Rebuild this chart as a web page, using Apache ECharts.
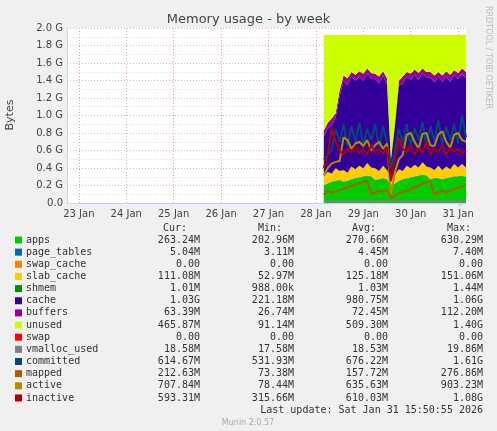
<!DOCTYPE html>
<html><head><meta charset="utf-8">
<script src="https://cdn.jsdelivr.net/npm/echarts@6/dist/echarts.min.js"></script>
<style>html,body{margin:0;padding:0;background:#F0F0F0}#c{width:497px;height:431px}</style>
</head><body><div id="c"></div>
<script>
// hours since 23 Jan 00:00; axis runs every 2 hours, samples start at 28 Jan 04:00
var firstHour = -6, lastHour = 196, stepHour = 2, startHour = 124;
var dayLabels = ['23 Jan', '24 Jan', '25 Jan', '26 Jan', '27 Jan', '28 Jan', '29 Jan', '30 Jan', '31 Jan'];
var memTotal = 1.92;

var apps = [0.20,0.22,0.24,0.25,0.26,0.24,0.25,0.27,0.28,0.29,0.30,0.31,0.30,0.26,0.27,0.28,0.27,0.20,0.22,0.25,0.27,0.28,0.29,0.30,0.31,0.32,0.31,0.27,0.28,0.28,0.27,0.28,0.29,0.30,0.30,0.31,0.30];
var pageTables = [0.005,0.005,0.005,0.005,0.005,0.005,0.005,0.005,0.005,0.005,0.005,0.005,0.005,0.005,0.005,0.005,0.005,0.004,0.004,0.005,0.005,0.005,0.005,0.005,0.005,0.005,0.005,0.005,0.005,0.005,0.005,0.005,0.005,0.005,0.005,0.005,0.005];
var slabCache = [0.10,0.13,0.09,0.14,0.10,0.13,0.09,0.14,0.10,0.13,0.09,0.14,0.10,0.13,0.09,0.14,0.10,0.08,0.10,0.13,0.09,0.14,0.10,0.13,0.09,0.14,0.10,0.13,0.09,0.14,0.10,0.13,0.09,0.14,0.10,0.13,0.10];
var shmem = [0.001,0.001,0.001,0.001,0.001,0.001,0.001,0.001,0.001,0.001,0.001,0.001,0.001,0.001,0.001,0.001,0.001,0.001,0.001,0.001,0.001,0.001,0.001,0.001,0.001,0.001,0.001,0.001,0.001,0.001,0.001,0.001,0.001,0.001,0.001,0.001,0.001];
var cache = [0.45,0.50,0.55,0.58,0.85,1.02,1.00,1.03,1.01,1.02,1.00,1.03,1.01,1.02,1.00,1.03,0.98,0.20,0.55,0.95,1.00,1.02,1.01,1.03,1.00,1.02,1.01,1.03,1.00,1.02,1.01,1.03,1.00,1.02,1.01,1.03,1.02];
var buffers = [0.07,0.06,0.08,0.05,0.07,0.06,0.08,0.05,0.07,0.06,0.08,0.05,0.07,0.06,0.08,0.05,0.07,0.03,0.04,0.06,0.08,0.05,0.07,0.06,0.08,0.05,0.07,0.06,0.08,0.05,0.07,0.06,0.08,0.05,0.07,0.06,0.07];
var vmallocUsed = [0.018,0.018,0.018,0.018,0.018,0.018,0.018,0.018,0.018,0.018,0.018,0.018,0.018,0.018,0.018,0.018,0.018,0.018,0.018,0.018,0.018,0.018,0.018,0.018,0.018,0.018,0.018,0.018,0.018,0.018,0.018,0.018,0.018,0.018,0.018,0.018,0.019];
var committed = [0.50,0.55,0.60,0.85,0.70,0.90,0.65,0.88,0.70,0.92,0.66,0.85,0.72,0.90,0.64,0.88,0.70,0.40,0.60,0.85,0.68,0.90,0.66,0.86,0.72,0.92,0.65,0.88,0.70,0.95,0.66,0.87,0.72,0.90,0.68,1.00,0.75];
var mapped = [0.10,0.14,0.12,0.13,0.15,0.16,0.18,0.19,0.21,0.22,0.24,0.25,0.10,0.12,0.14,0.13,0.15,0.06,0.08,0.11,0.13,0.14,0.16,0.18,0.20,0.22,0.24,0.25,0.10,0.12,0.14,0.12,0.14,0.16,0.17,0.19,0.21];
var active = [0.32,0.40,0.45,0.47,0.48,0.75,0.72,0.62,0.68,0.70,0.65,0.72,0.60,0.66,0.70,0.62,0.68,0.10,0.35,0.50,0.55,0.78,0.80,0.70,0.62,0.79,0.80,0.66,0.65,0.78,0.82,0.70,0.63,0.78,0.80,0.72,0.70];
var inactive = [0.40,0.55,0.85,0.70,0.60,0.55,0.62,0.58,0.65,0.57,0.63,0.55,0.66,0.58,0.62,0.56,0.64,0.25,0.50,0.75,0.62,0.58,0.66,0.55,0.63,0.57,0.70,0.55,0.62,0.58,0.66,0.55,0.63,0.58,0.62,0.56,0.60];

// legend table rows: name, colour, cur, min, avg, max
var legendRows = [
    ['apps', '#00CC00', '263.24M', '202.96M', '270.66M', '630.29M'],
    ['page_tables', '#0066B3', '5.04M', '3.11M', '4.45M', '7.40M'],
    ['swap_cache', '#FF8000', '0.00', '0.00', '0.00', '0.00'],
    ['slab_cache', '#FFCC00', '111.08M', '52.97M', '125.18M', '151.06M'],
    ['shmem', '#008F00', '1.01M', '988.00k', '1.03M', '1.44M'],
    ['cache', '#330099', '1.03G', '221.18M', '980.75M', '1.06G'],
    ['buffers', '#990099', '63.39M', '26.74M', '72.45M', '112.20M'],
    ['unused', '#CCFF00', '465.87M', '91.14M', '509.30M', '1.40G'],
    ['swap', '#FF0000', '0.00', '0.00', '0.00', '0.00'],
    ['vmalloc_used', '#808080', '18.58M', '17.58M', '18.53M', '19.86M'],
    ['committed', '#00487D', '614.67M', '531.93M', '676.22M', '1.61G'],
    ['mapped', '#B35A00', '212.63M', '73.38M', '157.72M', '276.86M'],
    ['active', '#B38F00', '707.84M', '78.44M', '635.63M', '903.23M'],
    ['inactive', '#B30000', '593.31M', '315.66M', '610.03M', '1.08G']
];

var hours = [];
for (var h = firstHour; h <= lastHour; h += stepHour) hours.push(h);
var offset = (startHour - firstHour) / stepHour;

function pad(arr) {
    var out = [];
    for (var i = 0; i < hours.length; i++) {
        var k = i - offset;
        out.push(k >= 0 && k < arr.length ? arr[k] : null);
    }
    return out;
}
var unused = [];
for (var i = 0; i < apps.length; i++) {
    unused.push(+(memTotal - apps[i] - pageTables[i] - slabCache[i] - shmem[i] - cache[i] - buffers[i]).toFixed(3));
}

function area(name, data, color) {
    return { name: name, type: 'line', stack: 'mem', data: pad(data), symbol: 'none',
        lineStyle: { width: 0 }, areaStyle: { color: color, opacity: 1 }, itemStyle: { color: color } };
}
function line(name, data, color) {
    return { name: name, type: 'line', data: pad(data), symbol: 'none', lineStyle: { width: 2, color: color } };
}
function isDay(index) { return hours[index] % 24 === 0 && hours[index] >= 0; }

var graphics = [];
var mono = '10px "DejaVu Sans Mono"';
var heads = [['Cur:', 187], ['Min:', 282], ['Avg:', 376], ['Max:', 471]];
heads.forEach(function (h) {
    graphics.push({ type: 'text', x: h[1], y: 228, style: { text: h[0], font: mono, fill: '#333', align: 'right', verticalAlign: 'middle' } });
});
legendRows.forEach(function (r, k) {
    var y = 240 + k * 12.15;
    graphics.push({ type: 'rect', shape: { x: 15, y: y - 3.5, width: 7, height: 7 }, style: { fill: r[1] } });
    graphics.push({ type: 'text', x: 26, y: y, style: { text: r[0], font: mono, fill: '#333', verticalAlign: 'middle' } });
    [200, 294, 388, 483].forEach(function (x, j) {
        graphics.push({ type: 'text', x: x, y: y, style: { text: r[j + 2], font: mono, fill: '#333', align: 'right', verticalAlign: 'middle' } });
    });
});
graphics.push({ type: 'text', x: 483, y: 410, style: { text: 'Last update: Sat Jan 31 15:50:55 2026', font: mono, fill: '#333', align: 'right', verticalAlign: 'middle' } });
graphics.push({ type: 'text', x: 248, y: 423, style: { text: 'Munin 2.0.57', font: '8px "DejaVu Sans"', fill: '#aaa', align: 'center', verticalAlign: 'middle' } });
graphics.push({ type: 'text', x: 488, y: 6, rotation: -Math.PI / 2, style: { text: 'RRDTOOL / TOBI OETIKER', font: '8px "DejaVu Sans"', fill: '#bbb', verticalAlign: 'middle' } });
graphics.push({ type: 'text', x: 10, y: 115, rotation: Math.PI / 2, style: { text: 'Bytes', font: '11px "DejaVu Sans"', fill: '#444', align: 'center', verticalAlign: 'middle' } });

var myChart = echarts.init(document.getElementById('c'));
var option = {
    backgroundColor: '#F0F0F0',
    animation: false,
    title: {
        text: 'Memory usage - by week', left: 'center', top: 8,
        textStyle: { fontFamily: 'DejaVu Sans', fontSize: 13, fontWeight: 'normal', color: '#444' }
    },
    grid: { left: 67, right: 31, top: 28, bottom: 228, backgroundColor: '#fff', show: true, borderWidth: 0 },
    xAxis: {
        type: 'category', data: hours, boundaryGap: false,
        axisLine: { lineStyle: { color: '#ccccff' }, symbol: ['none', 'arrow'], symbolSize: [6, 8] },
        axisTick: { show: false },
        splitLine: { show: true, interval: isDay, lineStyle: { color: '#f0a0a0', type: [1, 2] } },
        axisLabel: {
            interval: isDay, color: '#444', fontFamily: 'DejaVu Sans', fontSize: 10, margin: 6,
            formatter: function (v) { return dayLabels[v / 24]; }
        }
    },
    yAxis: {
        type: 'value', min: 0, max: 2, interval: 0.2,
        axisLine: { show: true, lineStyle: { color: '#ccccff' } },
        axisTick: { show: false },
        axisLabel: { color: '#444', fontFamily: 'DejaVu Sans', fontSize: 10, margin: 4,
            formatter: function (v) { return v === 0 ? '0.0' : v.toFixed(1) + ' G'; } },
        splitLine: { lineStyle: { color: '#f0b0b0', type: [1, 2] } },
        minorTick: { show: false, splitNumber: 2 },
        minorSplitLine: { show: true, lineStyle: { color: '#dddddd', type: [1, 2] } }
    },
    series: [
        area('apps', apps, '#00CC00'),
        area('page_tables', pageTables, '#0066B3'),
        area('slab_cache', slabCache, '#FFCC00'),
        area('shmem', shmem, '#008F00'),
        area('cache', cache, '#330099'),
        area('buffers', buffers, '#990099'),
        area('unused', unused, '#CCFF00'),
        line('vmalloc_used', vmallocUsed, '#808080'),
        line('committed', committed, '#00487D'),
        line('mapped', mapped, '#B35A00'),
        line('active', active, '#B38F00'),
        line('inactive', inactive, '#B30000')
    ],
    graphic: graphics
};
myChart.setOption(option);
</script>
</body></html>
